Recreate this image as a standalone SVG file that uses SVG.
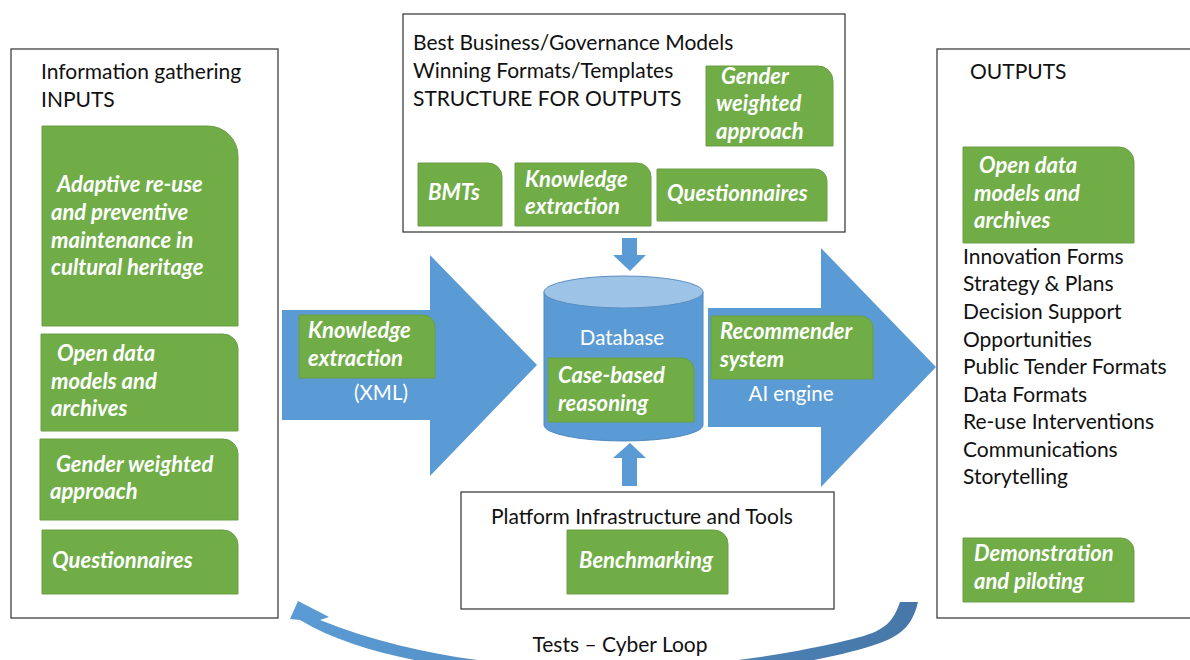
<svg xmlns="http://www.w3.org/2000/svg" width="1190" height="660" viewBox="0 0 1190 660">
<defs>
<style>
.panel{fill:#fff;stroke:#404040;stroke-width:1.3}
.g{fill:#70AD47;stroke:#6A9E45;stroke-width:1}
.blue{fill:#5B9BD5}
.t{font-family:Lato,"Open Sans",sans-serif;font-size:21px;fill:#111}
.w{font-family:Lato,"Open Sans",sans-serif;font-size:20.5px;fill:#fff}
.gl{font-family:Lato,"Open Sans",sans-serif;font-size:22px;font-weight:bold;font-style:italic;fill:#fff}
.c{text-anchor:middle}
</style>
<linearGradient id="loopGrad" x1="0" y1="0" x2="1" y2="0">
<stop offset="0" stop-color="#5B9BD5"/>
<stop offset="1" stop-color="#4677A8"/>
</linearGradient>
</defs>

<g id="inputs-panel">
<rect class="panel" x="11" y="49" width="267" height="569"/>
<text class="t" x="41" y="79">Information gathering</text>
<text class="t" x="41" y="107">INPUTS</text>
</g>
<g id="in-adaptive">
<path class="g" d="M42,126 H208 A30,30 0 0 1 238,156 V326 H42 Z"/>
<text class="gl" x="57" y="192">Adaptive re-use</text>
<text class="gl" x="51" y="220">and preventive</text>
<text class="gl" x="51" y="248">maintenance in</text>
<text class="gl" x="51" y="275">cultural heritage</text>
</g>
<g id="in-opendata">
<path class="g" d="M41,334 H223 A15,15 0 0 1 238,349 V431 H41 Z"/>
<text class="gl" x="57" y="361">Open data</text>
<text class="gl" x="51" y="389">models and</text>
<text class="gl" x="51" y="416">archives</text>
</g>
<g id="in-gender">
<path class="g" d="M40,439 H223 A15,15 0 0 1 238,454 V520 H40 Z"/>
<text class="gl" x="56" y="472">Gender weighted</text>
<text class="gl" x="50" y="499">approach</text>
</g>
<g id="in-quest">
<path class="g" d="M42,530 H223 A15,15 0 0 1 238,545 V594 H42 Z"/>
<text class="gl" x="52" y="568">Questionnaires</text>
</g>

<g id="structure-panel">
<rect class="panel" x="403" y="14" width="442" height="218"/>
<text class="t" x="413" y="50">Best Business/Governance Models</text>
<text class="t" x="413" y="78">Winning Formats/Templates</text>
<text class="t" x="413" y="106">STRUCTURE FOR OUTPUTS</text>
</g>
<g id="st-gender">
<path class="g" d="M706,66 H818 A15,15 0 0 1 833,81 V146 H706 Z"/>
<text class="gl" x="721" y="84">Gender</text>
<text class="gl" x="716" y="111">weighted</text>
<text class="gl" x="716" y="139">approach</text>
</g>
<g id="st-bmts">
<path class="g" d="M418,163 H488 A14,14 0 0 1 502,177 V226 H418 Z"/>
<text class="gl" x="428" y="200">BMTs</text>
</g>
<g id="st-knowledge">
<path class="g" d="M515,163 H637 A14,14 0 0 1 651,177 V226 H515 Z"/>
<text class="gl" x="525" y="187">Knowledge</text>
<text class="gl" x="525" y="214">extraction</text>
</g>
<g id="st-quest">
<path class="g" d="M657,169 H815 A12,12 0 0 1 827,181 V221 H657 Z"/>
<text class="gl" x="667" y="201">Questionnaires</text>
</g>

<g id="connectors">
<path id="arrow-in" class="blue" d="M282,310 H430 V255 L537,365 L430,476 V420 H282 Z"/>
<path id="arrow-out" class="blue" d="M708,308 H821 V248 L936,367 L821,487 V427 H708 Z"/>
<path id="arrow-down" class="blue" d="M622,238 H637 V255 H646 L630,271 L613,255 H622 Z"/>
<path id="arrow-up" class="blue" d="M622,486 H637 V458 H646 L630,443 L613,458 H622 Z"/>
<path id="loop" fill="url(#loopGrad)" d="M918,602 C913,622 905,634 880,643 C830,661 730,677 620,677 C520,677 380,668 300,620 L290,619 L298,601 L329,617 L320,620 C420,660 520,668 620,668 C720,668 820,648 860,637 C885,630 893,622 900,602 Z"/>
<text class="w c" x="381" y="400">(XML)</text>
<text class="w c" x="791" y="401">AI engine</text>
<text class="t c" x="620" y="652">Tests – Cyber Loop</text>
</g>
<g id="arrow-in-label">
<path class="g" d="M299,315 H423 A12,12 0 0 1 435,327 V378 H299 Z"/>
<text class="gl" x="308" y="338">Knowledge</text>
<text class="gl" x="308" y="366">extraction</text>
</g>
<g id="arrow-out-label">
<path class="g" d="M711,316 H861 A12,12 0 0 1 873,328 V379 H711 Z"/>
<text class="gl" x="720" y="339">Recommender</text>
<text class="gl" x="720" y="367">system</text>
</g>

<g id="database">
<path class="blue" d="M544,292 V425 A79.5,16 0 0 0 703,425 V292 Z" stroke="#4F88BD" stroke-width="1"/>
<ellipse cx="623.5" cy="292" rx="79.5" ry="16" fill="#9DC3E6" stroke="#5B8FC2" stroke-width="1"/>
<text class="w c" x="622" y="345">Database</text>
<path class="g" d="M548,358 H682 A12,12 0 0 1 694,370 V422 H548 Z"/>
<text class="gl" x="558" y="383">Case-based</text>
<text class="gl" x="558" y="411">reasoning</text>
</g>

<g id="platform-panel">
<rect class="panel" x="461" y="492" width="373" height="117"/>
<text class="t c" x="642" y="524">Platform Infrastructure and Tools</text>
</g>
<g id="pl-bench">
<path class="g" d="M567,530 H714 A14,14 0 0 1 728,544 V594 H567 Z"/>
<text class="gl c" x="646" y="568">Benchmarking</text>
</g>

<g id="outputs-panel">
<rect class="panel" x="937" y="49" width="270" height="569"/>
<text class="t" x="970" y="79">OUTPUTS</text>
<text class="t" x="963" y="264">Innovation Forms</text>
<text class="t" x="963" y="291">Strategy &amp; Plans</text>
<text class="t" x="963" y="319">Decision Support</text>
<text class="t" x="963" y="347">Opportunities</text>
<text class="t" x="963" y="374">Public Tender Formats</text>
<text class="t" x="963" y="402">Data Formats</text>
<text class="t" x="963" y="429">Re-use Interventions</text>
<text class="t" x="963" y="457">Communications</text>
<text class="t" x="963" y="484">Storytelling</text>
</g>
<g id="out-opendata">
<path class="g" d="M963,147 H1119 A15,15 0 0 1 1134,162 V243 H963 Z"/>
<text class="gl" x="979" y="173">Open data</text>
<text class="gl" x="974" y="201">models and</text>
<text class="gl" x="974" y="228">archives</text>
</g>
<g id="out-demo">
<path class="g" d="M963,538 H1121 A13,13 0 0 1 1134,551 V602 H963 Z"/>
<text class="gl" x="974" y="561">Demonstration</text>
<text class="gl" x="974" y="589">and piloting</text>
</g>
</svg>
